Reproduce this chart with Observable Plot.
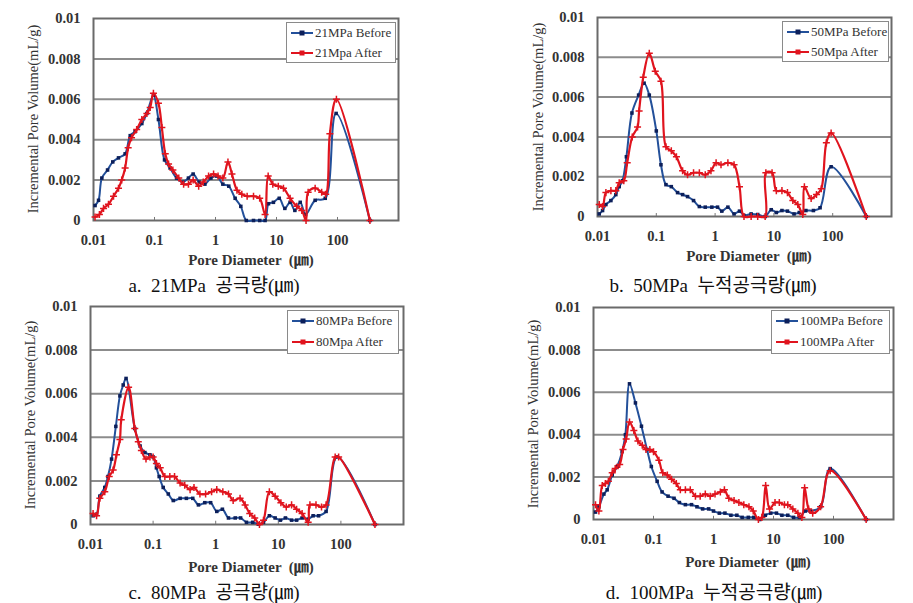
<!DOCTYPE html>
<html><head><meta charset="utf-8">
<script src="https://cdn.jsdelivr.net/npm/d3@7"></script>
<script src="https://cdn.jsdelivr.net/npm/@observablehq/plot@0.6"></script>
<style>
body{margin:0;background:#fff;}
#wrap{position:relative;width:913px;height:603px;overflow:hidden;font-family:"Liberation Serif","Times New Roman",serif;color:#222;}
.panel{position:absolute;}
.cap{position:absolute;font-size:19px;white-space:pre;transform:translate(-50%,-50%);font-family:"Liberation Serif","Noto Sans CJK KR",serif;color:#111;}
.xl{position:absolute;font-size:15px;font-weight:bold;white-space:pre;transform:translate(-50%,-50%);font-family:"Liberation Serif","Noto Sans CJK KR",serif;color:#333;}
.yl{position:absolute;font-size:14.5px;white-space:nowrap;transform:translate(-50%,-50%) rotate(-90deg);color:#333;}
.legend{position:absolute;background:#fff;border:1.5px solid #8a8a8a;box-sizing:border-box;font-size:13px;color:#333;}
.legend .row{position:absolute;left:3px;display:flex;align-items:center;white-space:nowrap;}
.legend svg{margin-right:1px;}
</style>
</head><body>
<div id="wrap"></div>
<script>
// ---------- data: [pore diameter (µm), incremental pore volume (mL/g)] ----------
const xTicks = [0.01, 0.1, 1, 10, 100];
const yTicks = [0, 0.002, 0.004, 0.006, 0.008, 0.01];

const a21Before = [[0.0106,0.00074],[0.0121,0.001],[0.0137,0.0021],[0.017,0.0025],[0.0207,0.0029],[0.0257,0.0031],[0.033,0.0033],[0.04,0.0042],[0.048,0.0044],[0.062,0.0048],[0.075,0.0053],[0.096,0.0062],[0.116,0.005],[0.146,0.003],[0.18,0.0026],[0.23,0.0021],[0.29,0.0019],[0.36,0.0021],[0.43,0.0023],[0.54,0.0019],[0.67,0.0018],[0.84,0.0021],[1.05,0.0022],[1.32,0.0018],[1.65,0.0017],[2.1,0.0011],[2.6,0.0007],[3.2,0],[4.2,0],[5.3,0],[6.5,0],[7.4,0.00083],[8.9,0.0009],[11.1,0.0011],[13.7,0.0006],[16.7,0.0009],[20,0.0005],[24.5,0.0009],[30,0.0003],[43,0.001],[63,0.0011],[95,0.0053],[340,0]];
const a21After = [[0.0106,0.00017],[0.0125,0.0003],[0.0146,0.0006],[0.0176,0.0008],[0.0213,0.0012],[0.0257,0.0016],[0.029,0.002],[0.033,0.0026],[0.037,0.0036],[0.042,0.0041],[0.051,0.0045],[0.062,0.005],[0.075,0.0053],[0.085,0.0056],[0.096,0.0063],[0.116,0.0058],[0.132,0.0046],[0.15,0.0033],[0.17,0.0028],[0.2,0.0025],[0.25,0.0021],[0.3,0.0018],[0.36,0.0018],[0.43,0.002],[0.53,0.0017],[0.63,0.0019],[0.77,0.0022],[0.93,0.0023],[1.1,0.0022],[1.32,0.0021],[1.6,0.0029],[1.86,0.0023],[2.25,0.0015],[2.7,0.0013],[3.3,0.0012],[4.2,0.0012],[5.3,0.0011],[6.5,0.0003],[7.3,0.0022],[8.7,0.0018],[10.7,0.0017],[13,0.0016],[16.7,0.0011],[21.5,0.0007],[26,0.0005],[30.5,0],[33,0.0014],[43,0.0016],[55,0.0014],[64,0.0013],[75,0.0043],[96,0.006],[340,0]];

const b50Before = [[0.0107,0.00013],[0.0122,0.0003],[0.0139,0.0006],[0.0169,0.0008],[0.0205,0.0011],[0.0234,0.0015],[0.0266,0.0018],[0.031,0.003],[0.0385,0.0052],[0.05,0.0061],[0.062,0.0067],[0.076,0.0061],[0.1,0.0043],[0.12,0.0026],[0.146,0.0016],[0.18,0.0015],[0.23,0.0012],[0.28,0.0011],[0.34,0.001],[0.43,0.0008],[0.54,0.0005],[0.68,0.00047],[0.88,0.00047],[1.1,0.00047],[1.3,0.00027],[1.65,0.00047],[2.1,0.00013],[2.6,0.00027],[3.1,0.00005],[4.1,0.00013],[5.3,0.0001],[7.1,0],[9,0.00034],[11,0.0002],[13.7,0.0003],[17,0.00027],[22,0.00013],[27,0.0002],[35,0.0003],[47,0.0003],[61,0.00044],[94,0.0025],[372,0]];
const b50After = [[0.0107,0.0006],[0.0122,0.0005],[0.0139,0.0012],[0.0169,0.0013],[0.0205,0.0013],[0.0234,0.0017],[0.028,0.0018],[0.032,0.0027],[0.039,0.004],[0.048,0.0045],[0.051,0.0053],[0.06,0.007],[0.076,0.0082],[0.096,0.0073],[0.12,0.0068],[0.146,0.0035],[0.18,0.0033],[0.22,0.003],[0.28,0.0023],[0.34,0.0021],[0.43,0.0022],[0.54,0.0022],[0.68,0.0021],[0.85,0.0023],[1.04,0.0027],[1.26,0.0026],[1.65,0.0027],[2.1,0.0026],[2.6,0.0015],[3.1,0],[4.1,0],[5.3,0],[7.1,0],[7.3,0.0022],[9.3,0.0022],[11,0.0013],[13.7,0.0013],[17,0.0012],[21,0.0008],[25.5,0.0006],[31,0.0001],[33,0.0015],[43,0.0009],[53,0.0011],[64,0.0014],[78,0.0037],[94,0.0042],[372,0]];

const c80Before = [[0.011,0.0004],[0.0125,0.00047],[0.0141,0.0013],[0.0169,0.0017],[0.019,0.0022],[0.0217,0.003],[0.0254,0.0045],[0.0295,0.0059],[0.0333,0.0064],[0.037,0.0067],[0.051,0.0044],[0.062,0.0036],[0.074,0.0033],[0.089,0.0032],[0.1,0.0031],[0.113,0.0026],[0.125,0.0022],[0.145,0.0017],[0.175,0.0014],[0.21,0.0011],[0.27,0.0012],[0.34,0.0012],[0.43,0.0012],[0.53,0.0009],[0.67,0.001],[0.83,0.001],[1.04,0.0006],[1.28,0.0007],[1.6,0.0003],[2.05,0.0003],[2.5,0.0003],[3.1,0.0001],[3.9,0.0001],[4.8,0.00002],[5.8,0.0001],[7.2,0.0004],[8.9,0.0003],[10.8,0.0002],[13,0.0003],[16.3,0.0002],[19.6,0.0002],[24,0.0003],[30,0.00025],[36,0.0004],[44,0.0004],[58,0.0006],[87,0.0031],[350,0]];
const c80After = [[0.011,0.0005],[0.0125,0.0004],[0.0141,0.0012],[0.0169,0.0015],[0.0199,0.0022],[0.023,0.0025],[0.026,0.0032],[0.0295,0.0039],[0.031,0.0048],[0.0406,0.0063],[0.051,0.0044],[0.058,0.0038],[0.065,0.0034],[0.077,0.003],[0.089,0.0031],[0.1,0.0031],[0.113,0.0028],[0.13,0.0026],[0.154,0.0022],[0.185,0.0022],[0.22,0.0022],[0.27,0.0019],[0.32,0.0018],[0.39,0.0016],[0.45,0.0017],[0.56,0.0014],[0.69,0.0014],[0.86,0.0015],[1.04,0.0016],[1.3,0.0015],[1.6,0.0014],[1.9,0.0011],[2.45,0.0012],[2.95,0.0009],[3.5,0.0005],[4.2,0.0003],[5,0],[5.8,0.0002],[7.2,0.0015],[8.9,0.0013],[11,0.001],[13.4,0.0008],[16.3,0.0009],[19.6,0.0007],[24,0.0005],[30,0.0001],[32,0.0009],[40,0.0009],[49,0.0008],[58,0.0009],[81,0.0031],[92,0.0031],[350,0]];

const d100Before = [[0.0108,0.00035],[0.0123,0.0006],[0.0149,0.0012],[0.0169,0.0014],[0.0205,0.0021],[0.0248,0.0025],[0.03,0.0032],[0.034,0.004],[0.0398,0.0064],[0.05,0.0055],[0.063,0.0044],[0.078,0.0033],[0.092,0.0025],[0.115,0.0018],[0.139,0.0013],[0.175,0.0011],[0.22,0.001],[0.27,0.0008],[0.34,0.0007],[0.43,0.0007],[0.53,0.0006],[0.66,0.0005],[0.83,0.0005],[1,0.0004],[1.25,0.0003],[1.55,0.0003],[1.95,0.0002],[2.45,0.0002],[3,0.0001],[3.8,0.0001],[4.7,0.0001],[5.9,0],[7.3,0.0002],[9,0.0003],[11.2,0.0003],[13.8,0.0002],[17.3,0.0002],[21.6,0.0001],[27,0.0001],[34,0.0004],[41,0.0004],[61,0.0006],[88,0.0024],[350,0]];
const d100After = [[0.0108,0.0007],[0.0123,0.0004],[0.014,0.0016],[0.0158,0.0017],[0.0177,0.0018],[0.0205,0.0022],[0.023,0.0024],[0.0273,0.0026],[0.031,0.0033],[0.035,0.0038],[0.0398,0.0046],[0.047,0.0042],[0.055,0.0037],[0.065,0.0035],[0.075,0.0033],[0.087,0.0033],[0.1,0.0032],[0.123,0.0028],[0.143,0.0022],[0.17,0.0021],[0.2,0.0019],[0.24,0.0017],[0.28,0.0014],[0.34,0.0014],[0.41,0.0014],[0.5,0.0011],[0.6,0.0011],[0.73,0.0012],[0.88,0.0011],[1.06,0.0012],[1.3,0.0013],[1.52,0.0014],[1.8,0.001],[2.2,0.0009],[2.65,0.0008],[3.2,0.0007],[3.9,0.0006],[4.6,0.0004],[5.6,0],[6.4,0.0001],[7.4,0.0016],[8.6,0.0005],[10.6,0.0008],[12.5,0.0008],[15.2,0.0007],[17.3,0.0007],[21,0.0005],[25.5,0.0003],[29.7,0.0001],[33,0.0015],[38.5,0.0005],[45,0.0003],[61,0.0006],[88,0.0023],[350,0]];

const legendLabels = {
  a: ["21MPa Before", "21Mpa After"],
  b: ["50MPa Before", "50Mpa After"],
  c: ["80MPa Before", "80Mpa After"],
  d: ["100MPa Before", "100MPa After"]
};
const captions = {
  a: "a.  21MPa  공극량(㎛)",
  b: "b.  50MPa  누적공극량(㎛)",
  c: "c.  80MPa  공극량(㎛)",
  d: "d.  100MPa  누적공극량(㎛)"
};
const xLabel = "Pore Diameter  (㎛)";
const yLabel = "Incremental Pore Volume(mL/g)";

// ---------- layout ----------
const BLUE_LINE = "#23509a", BLUE_DOT = "#0c1f5a", RED = "#e0141e";
const panels = [
  {key:"a", before:a21Before, after:a21After, svg:{x:0,y:0,w:455,h:255}, area:{l:93,r:398,t:18,b:220},
   legend:{l:286,t:22,w:110,h:41}, cap:{x:214,y:283}, xl:{x:251,y:258}, yl:{x:33,y:119}},
  {key:"b", before:b50Before, after:b50After, svg:{x:455,y:0,w:458,h:255}, area:{l:597,r:891,t:17,b:216},
   legend:{l:782,t:21,w:107,h:41}, cap:{x:713,y:283}, xl:{x:749,y:254}, yl:{x:538,y:117}},
  {key:"c", before:c80Before, after:c80After, svg:{x:0,y:295,w:455,h:265}, area:{l:90,r:403,t:306,b:524},
   legend:{l:287,t:310,w:112,h:44}, cap:{x:214,y:590}, xl:{x:251,y:565}, yl:{x:30,y:415}},
  {key:"d", before:d100Before, after:d100After, svg:{x:455,y:295,w:458,h:265}, area:{l:593,r:893,t:307,b:519},
   legend:{l:771,t:310,w:119,h:44}, cap:{x:714,y:590}, xl:{x:748,y:560}, yl:{x:533,y:414}}
];

const wrap = document.getElementById("wrap");
const yFmt = d => d === 0 ? "0" : String(+d.toFixed(3));

function swatch(color){
  const ns = "http://www.w3.org/2000/svg";
  const s = document.createElementNS(ns, "svg");
  s.setAttribute("width", 24); s.setAttribute("height", 10);
  const l = document.createElementNS(ns, "line");
  l.setAttribute("x1", 1); l.setAttribute("x2", 23); l.setAttribute("y1", 5); l.setAttribute("y2", 5);
  l.setAttribute("stroke", color === "blue" ? BLUE_LINE : RED); l.setAttribute("stroke-width", 2);
  s.appendChild(l);
  const m = document.createElementNS(ns, "rect");
  m.setAttribute("x", 9.5); m.setAttribute("y", 2.5); m.setAttribute("width", 5); m.setAttribute("height", 5);
  m.setAttribute("fill", color === "blue" ? BLUE_DOT : RED);
  s.appendChild(m);
  return s;
}

for (const p of panels) {
  const {svg, area} = p;
  const chart = Plot.plot({
    width: svg.w, height: svg.h,
    marginLeft: area.l - svg.x, marginRight: svg.x + svg.w - area.r,
    marginTop: area.t - svg.y, marginBottom: svg.y + svg.h - area.b,
    style: {fontFamily: "'Liberation Serif','Times New Roman',serif", fontSize: "14.5px", fontWeight: "bold", color: "#333", background: "transparent"},
    x: {type: "log", domain: [0.01, 1000]},
    y: {type: "linear", domain: [0, 0.01]},
    marks: [
      Plot.ruleY([0.002, 0.004, 0.006, 0.008], {stroke: "#8c8c8c", strokeWidth: 2}),
      Plot.frame({stroke: "#6a6a6a", strokeWidth: 2}),
      Plot.ruleX(xTicks.slice(1), {y1: 0, y2: 0.00015, stroke: "#777", strokeWidth: 1}),
      Plot.axisX({ticks: xTicks, tickFormat: d => String(d), tickSize: 0, tickPadding: 14, label: null}),
      Plot.axisY({ticks: yTicks, tickFormat: yFmt, tickSize: 0, tickPadding: 13, label: null}),
      Plot.line(p.before, {x: d => d[0], y: d => d[1], stroke: BLUE_LINE, strokeWidth: 2, curve: "catmull-rom"}),
      Plot.dot(p.before, {x: d => d[0], y: d => d[1], symbol: "square", r: 2, fill: BLUE_DOT}),
      Plot.line(p.after, {x: d => d[0], y: d => d[1], stroke: RED, strokeWidth: 2.2, curve: "catmull-rom"}),
      Plot.dot(p.after, {x: d => d[0], y: d => d[1], symbol: "plus", r: 2.4, stroke: RED, strokeWidth: 1.5})
    ]
  });
  chart.classList.add("panel");
  chart.style.left = svg.x + "px";
  chart.style.top = svg.y + "px";
  chart.style.overflow = "visible";
  wrap.appendChild(chart);

  // legend
  const lg = document.createElement("div");
  lg.className = "legend";
  Object.assign(lg.style, {left: p.legend.l + "px", top: p.legend.t + "px", width: p.legend.w + "px", height: p.legend.h + "px"});
  legendLabels[p.key].forEach((txt, i) => {
    const row = document.createElement("div");
    row.className = "row";
    row.style.top = (i === 0 ? 2 : p.legend.h / 2 + 1) + "px";
    row.appendChild(swatch(i === 0 ? "blue" : "red"));
    const t = document.createElement("span");
    t.textContent = txt;
    row.appendChild(t);
    lg.appendChild(row);
  });
  wrap.appendChild(lg);

  const cap = document.createElement("div");
  cap.className = "cap"; cap.textContent = captions[p.key];
  cap.style.left = p.cap.x + "px"; cap.style.top = p.cap.y + "px";
  wrap.appendChild(cap);

  const xl = document.createElement("div");
  xl.className = "xl"; xl.textContent = xLabel;
  xl.style.left = p.xl.x + "px"; xl.style.top = p.xl.y + "px";
  wrap.appendChild(xl);

  const yl = document.createElement("div");
  yl.className = "yl"; yl.textContent = yLabel;
  yl.style.left = p.yl.x + "px"; yl.style.top = p.yl.y + "px";
  wrap.appendChild(yl);
}
</script>
</body></html>
